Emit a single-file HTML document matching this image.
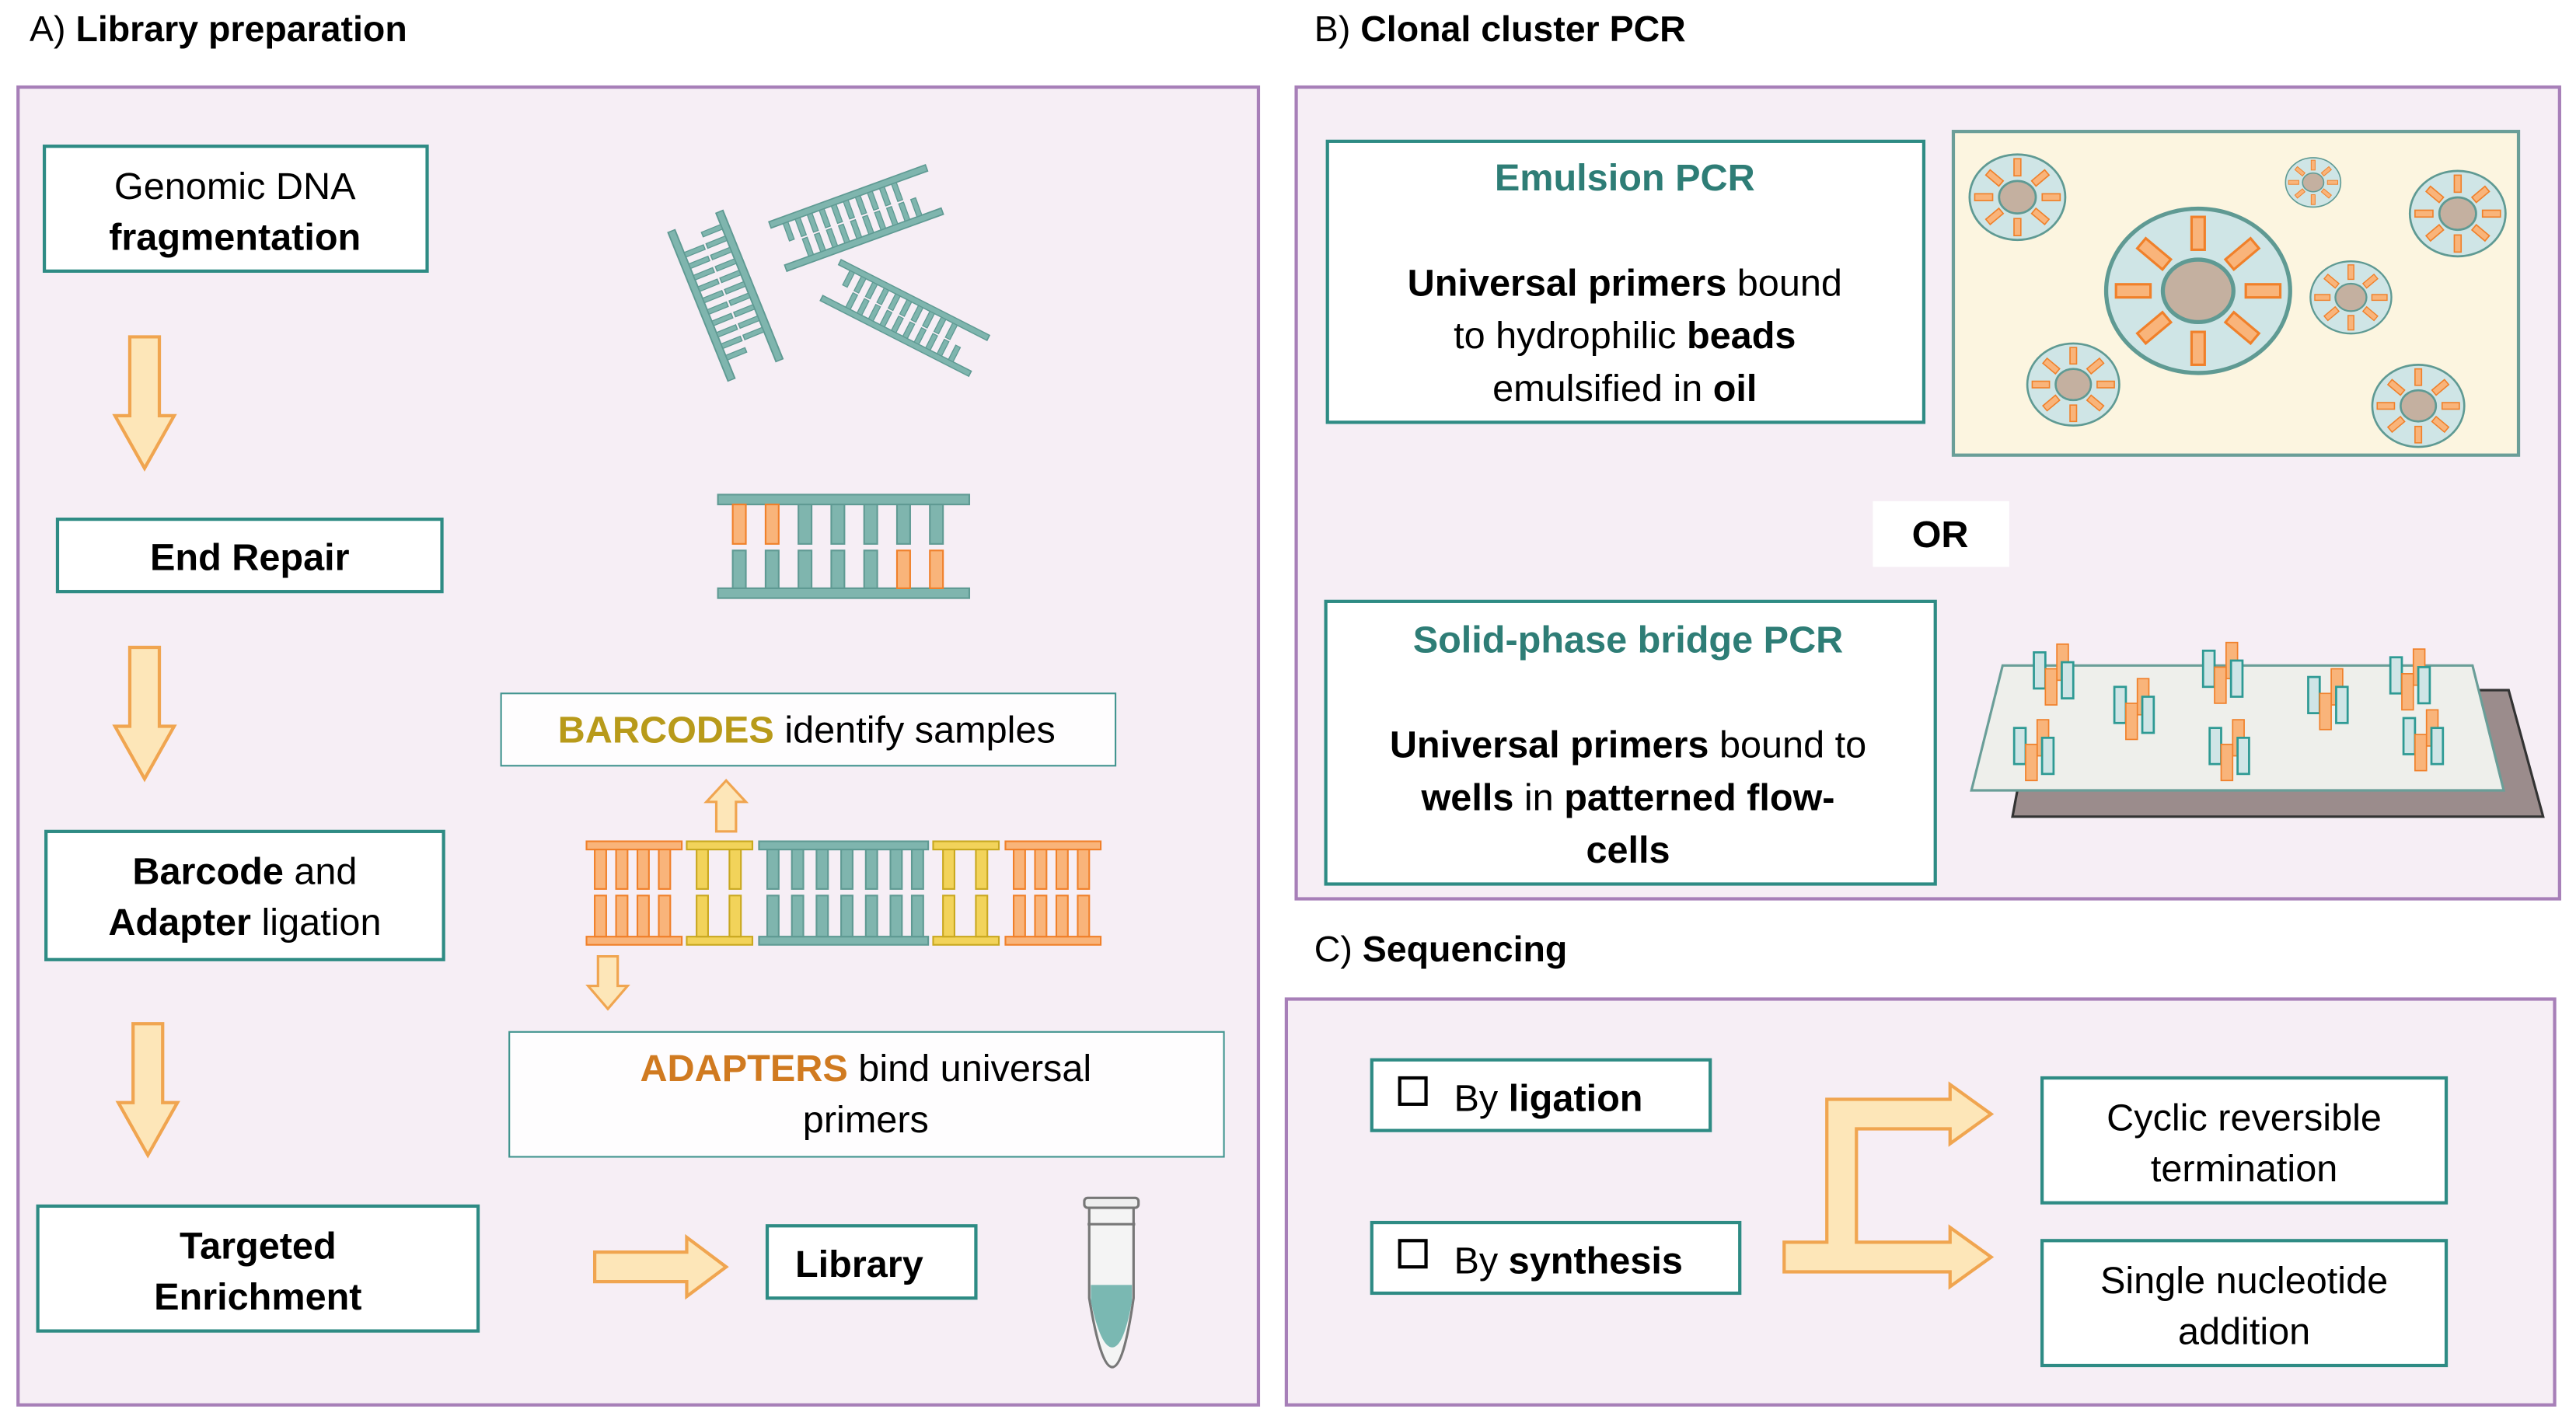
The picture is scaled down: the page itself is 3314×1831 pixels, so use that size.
<!DOCTYPE html>
<html><head><meta charset="utf-8"><style>
html,body{margin:0;padding:0;background:#fff;}
svg{display:block;}
text{font-family:"Liberation Sans",Arial,sans-serif;}
</style></head><body>
<svg width="3314" height="1831" viewBox="0 0 1568 866" preserveAspectRatio="none" xmlns="http://www.w3.org/2000/svg">
<defs>
  <g id="lad">
    <rect x="0" y="0" width="130" height="5" fill="#7fb5ae" stroke="#5f9a93" stroke-width="1"/>
    <rect x="0" y="35" width="130" height="5" fill="#7fb5ae" stroke="#5f9a93" stroke-width="1"/>
    <g fill="#7fb5ae" stroke="#5f9a93" stroke-width="0.8">
      <rect x="10" y="5" width="4" height="14"/><rect x="20" y="5" width="4" height="14"/><rect x="30" y="5" width="4" height="14"/><rect x="40" y="5" width="4" height="14"/><rect x="50" y="5" width="4" height="14"/><rect x="60" y="5" width="4" height="14"/><rect x="70" y="5" width="4" height="14"/><rect x="80" y="5" width="4" height="14"/><rect x="90" y="5" width="4" height="14"/><rect x="100" y="5" width="4" height="14"/>
      <rect x="20" y="21" width="4" height="14"/><rect x="30" y="21" width="4" height="14"/><rect x="40" y="21" width="4" height="14"/><rect x="50" y="21" width="4" height="14"/><rect x="60" y="21" width="4" height="14"/><rect x="70" y="21" width="4" height="14"/><rect x="80" y="21" width="4" height="14"/><rect x="90" y="21" width="4" height="14"/><rect x="100" y="21" width="4" height="14"/><rect x="110" y="21" width="4" height="14"/>
    </g>
  </g>
  <g id="bead">
    <ellipse cx="0" cy="0" rx="1.12" ry="1" fill="#cfe5e6" stroke="#5f9a93" stroke-width="0.05"/>
    <ellipse cx="0" cy="0" rx="0.43" ry="0.38" fill="#c4b0a0" stroke="#5f9a93" stroke-width="0.05"/>
    <g fill="#f9b47a" stroke="#f0802a" stroke-width="0.03">
      <rect x="-0.08" y="-0.9" width="0.16" height="0.4"/>
      <rect x="-0.08" y="0.5" width="0.16" height="0.4"/>
      <rect x="-1.0" y="-0.08" width="0.42" height="0.16"/>
      <rect x="0.58" y="-0.08" width="0.42" height="0.16"/>
      <rect x="-0.08" y="-0.9" width="0.16" height="0.4" transform="rotate(50)"/>
      <rect x="-0.08" y="-0.9" width="0.16" height="0.4" transform="rotate(-50)"/>
      <rect x="-0.08" y="-0.9" width="0.16" height="0.4" transform="rotate(130)"/>
      <rect x="-0.08" y="-0.9" width="0.16" height="0.4" transform="rotate(-130)"/>
    </g>
  </g>
  <g id="pr">
    <rect x="0" y="0" width="7" height="22" fill="#cfe5e6" stroke="#2e9a94" stroke-width="1.3"/>
    <rect x="14" y="-5" width="7" height="22" fill="#f9b47a" stroke="#f0802a" stroke-width="0.8"/>
    <rect x="7" y="10" width="7" height="22" fill="#f9b47a" stroke="#f0802a" stroke-width="0.8"/>
    <rect x="17" y="6" width="7" height="22" fill="#cfe5e6" stroke="#2e9a94" stroke-width="1.3"/>
  </g>
  <g id="darr">
    <polygon points="-9,0 9,0 9,48 18,48 0,80 -18,48 -9,48" fill="#fde6b8" stroke="#f0a550" stroke-width="2"/>
  </g>
</defs>

<!-- Titles -->
<text x="18" y="25" font-size="22">A) <tspan font-weight="bold">Library preparation</tspan></text>
<text x="800" y="25" font-size="22">B) <tspan font-weight="bold">Clonal cluster PCR</tspan></text>
<text x="800" y="585" font-size="22">C) <tspan font-weight="bold">Sequencing</tspan></text>

<!-- Panels -->
<rect x="11" y="53" width="755" height="802" fill="#f6eef5" stroke="#a77fb8" stroke-width="2"/>
<rect x="789" y="53" width="769" height="494" fill="#f6eef5" stroke="#a77fb8" stroke-width="2"/>
<rect x="783" y="608" width="772" height="247" fill="#f6eef5" stroke="#a77fb8" stroke-width="2"/>

<!-- Panel A boxes -->
<g fill="#fff" stroke="#2e8b84" stroke-width="2">
  <rect x="27" y="89" width="233" height="76"/>
  <rect x="35" y="316" width="234" height="44"/>
  <rect x="28" y="506" width="242" height="78"/>
  <rect x="23" y="734" width="268" height="76"/>
  <rect x="467" y="746" width="127" height="44"/>
</g>
<g fill="#fff" stroke="#2e8b84" stroke-width="1" opacity="0.9">
  <rect x="305" y="422" width="374" height="44"/>
  <rect x="310" y="628" width="435" height="76"/>
</g>
<g font-size="23" text-anchor="middle" fill="#000">
  <text x="143" y="121">Genomic DNA</text>
  <text x="143" y="152" font-weight="bold">fragmentation</text>
  <text x="152" y="347" font-weight="bold">End Repair</text>
  <text x="149" y="538"><tspan font-weight="bold">Barcode</tspan> and</text>
  <text x="149" y="569"><tspan font-weight="bold">Adapter</tspan> ligation</text>
  <text x="157" y="766" font-weight="bold">Targeted</text>
  <text x="157" y="797" font-weight="bold">Enrichment</text>
  <text x="523" y="777" font-weight="bold">Library</text>
  <text x="491" y="452"><tspan font-weight="bold" fill="#b89a1a">BARCODES</tspan> identify samples</text>
  <text x="527" y="658"><tspan font-weight="bold" fill="#d07a20">ADAPTERS</tspan> bind universal</text>
  <text x="527" y="689">primers</text>
</g>

<!-- down arrows -->
<use href="#darr" transform="translate(88,205)"/>
<use href="#darr" transform="translate(88,394)"/>
<use href="#darr" transform="translate(90,623)"/>
<polygon points="362,762 418,762 418,753 442,771 418,789 418,780 362,780" fill="#fde6b8" stroke="#f0a550" stroke-width="2"/>
<polygon points="436,506 436,488 430,488 442,475 454,488 448,488 448,506" fill="#fde6b8" stroke="#f0a550" stroke-width="1.5"/>
<polygon points="364,582 376,582 376,600 382,600 370,614 358,600 364,600" fill="#fde6b8" stroke="#f0a550" stroke-width="1.5"/>

<!-- fragmented DNA -->
<use href="#lad" transform="translate(440,128) rotate(68) scale(0.75,0.9)"/>
<use href="#lad" transform="translate(468,135) rotate(-20) scale(0.78,0.8)"/>
<use href="#lad" transform="translate(512,158) rotate(27) scale(0.78,0.7)"/>

<!-- end repair ladder -->
<g stroke="#5f9a93" stroke-width="1">
  <rect x="437" y="301" width="153" height="6" fill="#7fb5ae"/>
  <rect x="437" y="358" width="153" height="6" fill="#7fb5ae"/>
  <g fill="#7fb5ae">
    <rect x="446" y="307" width="8" height="24" fill="#f9b47a" stroke="#f0802a"/><rect x="466" y="307" width="8" height="24" fill="#f9b47a" stroke="#f0802a"/><rect x="486" y="307" width="8" height="24"/><rect x="506" y="307" width="8" height="24"/><rect x="526" y="307" width="8" height="24"/><rect x="546" y="307" width="8" height="24"/><rect x="566" y="307" width="8" height="24"/>
    <rect x="446" y="335" width="8" height="23"/><rect x="466" y="335" width="8" height="23"/><rect x="486" y="335" width="8" height="23"/><rect x="506" y="335" width="8" height="23"/><rect x="526" y="335" width="8" height="23"/><rect x="546" y="335" width="8" height="23" fill="#f9b47a" stroke="#f0802a"/><rect x="566" y="335" width="8" height="23" fill="#f9b47a" stroke="#f0802a"/>
  </g>
</g>

<!-- adapter ladder -->
<g stroke-width="1">
  <g fill="#f9b47a" stroke="#f0802a">
    <rect x="357" y="512" width="58" height="5"/><rect x="357" y="570" width="58" height="5"/>
    <rect x="362" y="517" width="7" height="24"/><rect x="375" y="517" width="7" height="24"/><rect x="388" y="517" width="7" height="24"/><rect x="401" y="517" width="7" height="24"/>
    <rect x="362" y="545" width="7" height="25"/><rect x="375" y="545" width="7" height="25"/><rect x="388" y="545" width="7" height="25"/><rect x="401" y="545" width="7" height="25"/>
    <rect x="612" y="512" width="58" height="5"/><rect x="612" y="570" width="58" height="5"/>
    <rect x="617" y="517" width="7" height="24"/><rect x="630" y="517" width="7" height="24"/><rect x="643" y="517" width="7" height="24"/><rect x="656" y="517" width="7" height="24"/>
    <rect x="617" y="545" width="7" height="25"/><rect x="630" y="545" width="7" height="25"/><rect x="643" y="545" width="7" height="25"/><rect x="656" y="545" width="7" height="25"/>
  </g>
  <g fill="#f2d35a" stroke="#c9a820">
    <rect x="418" y="512" width="40" height="5"/><rect x="418" y="570" width="40" height="5"/>
    <rect x="424" y="517" width="7" height="24"/><rect x="444" y="517" width="7" height="24"/><rect x="424" y="545" width="7" height="25"/><rect x="444" y="545" width="7" height="25"/>
    <rect x="568" y="512" width="40" height="5"/><rect x="568" y="570" width="40" height="5"/>
    <rect x="574" y="517" width="7" height="24"/><rect x="594" y="517" width="7" height="24"/><rect x="574" y="545" width="7" height="25"/><rect x="594" y="545" width="7" height="25"/>
  </g>
  <g fill="#7fb5ae" stroke="#5f9a93">
    <rect x="462" y="512" width="103" height="5"/><rect x="462" y="570" width="103" height="5"/>
    <rect x="467" y="517" width="7" height="24"/><rect x="482" y="517" width="7" height="24"/><rect x="497" y="517" width="7" height="24"/><rect x="512" y="517" width="7" height="24"/><rect x="527" y="517" width="7" height="24"/><rect x="542" y="517" width="7" height="24"/><rect x="555" y="517" width="7" height="24"/>
    <rect x="467" y="545" width="7" height="25"/><rect x="482" y="545" width="7" height="25"/><rect x="497" y="545" width="7" height="25"/><rect x="512" y="545" width="7" height="25"/><rect x="527" y="545" width="7" height="25"/><rect x="542" y="545" width="7" height="25"/><rect x="555" y="545" width="7" height="25"/>
  </g>
</g>

<!-- tube -->
<g stroke="#777" stroke-width="1.5">
  <rect x="660" y="729" width="33" height="6" rx="2" fill="#eee"/>
  <path d="M663,735 L663,790 Q670,832 677,832 Q684,832 690,790 L690,735 Z" fill="#f4f4f4"/>
  <path d="M664,782 L689,782 L689,792 Q684,820 677,820 Q670,820 664,792 Z" fill="#7ab8b2" stroke="none"/>
  <line x1="662" y1="745" x2="691" y2="745"/>
</g>

<!-- Panel B -->
<rect x="808" y="86" width="363" height="171" fill="#fff" stroke="#2e8b84" stroke-width="2"/>
<rect x="807" y="366" width="371" height="172" fill="#fff" stroke="#2e8b84" stroke-width="2"/>
<rect x="1140" y="305" width="83" height="40" fill="#fff"/>
<g font-size="23" text-anchor="middle" fill="#000">
  <text x="989" y="116" font-weight="bold" fill="#2e7d76">Emulsion PCR</text>
  <text x="989" y="180"><tspan font-weight="bold">Universal primers</tspan>  bound</text>
  <text x="989" y="212">to hydrophilic <tspan font-weight="bold">beads</tspan></text>
  <text x="989" y="244">emulsified  in <tspan font-weight="bold">oil</tspan></text>
  <text x="1181" y="333" font-weight="bold">OR</text>
  <text x="991" y="397" font-weight="bold" fill="#2e7d76">Solid-phase bridge PCR</text>
  <text x="991" y="461"><tspan font-weight="bold">Universal primers</tspan>  bound to</text>
  <text x="991" y="493"><tspan font-weight="bold">wells</tspan>  in <tspan font-weight="bold">patterned flow-</tspan></text>
  <text x="991" y="525" font-weight="bold">cells</text>
</g>
<rect x="1189" y="80" width="344" height="197" fill="#fcf5e0" stroke="#6a9e98" stroke-width="2"/>
<use href="#bead" transform="translate(1338,177) scale(50)"/>
<use href="#bead" transform="translate(1228,120) scale(26)"/>
<use href="#bead" transform="translate(1408,111) scale(15)"/>
<use href="#bead" transform="translate(1496,130) scale(26)"/>
<use href="#bead" transform="translate(1431,181) scale(22)"/>
<use href="#bead" transform="translate(1262,234) scale(25)"/>
<use href="#bead" transform="translate(1472,247) scale(25)"/>

<polygon points="1225,497 1548,497 1527,420 1505,420 1230,470" fill="#9b8c8c" stroke="#333" stroke-width="1.5"/>
<polygon points="1219,405 1505,405 1524,481 1200,481" fill="#eeefeb" stroke="#6a9e98" stroke-width="1.5"/>
<use href="#pr" transform="translate(1238,397)"/>
<use href="#pr" transform="translate(1287,418)"/>
<use href="#pr" transform="translate(1341,396)"/>
<use href="#pr" transform="translate(1405,412)"/>
<use href="#pr" transform="translate(1455,400)"/>
<use href="#pr" transform="translate(1226,443)"/>
<use href="#pr" transform="translate(1345,443)"/>
<use href="#pr" transform="translate(1463,437)"/>

<!-- Panel C -->
<g fill="#fff" stroke="#2e8b84" stroke-width="2">
  <rect x="835" y="645" width="206" height="43"/>
  <rect x="835" y="744" width="224" height="43"/>
  <rect x="1243" y="656" width="246" height="76"/>
  <rect x="1243" y="755" width="246" height="76"/>
</g>
<g font-size="23" fill="#000">
  <rect x="852" y="656" width="16" height="16" fill="none" stroke="#000" stroke-width="2"/>
  <text x="885" y="676">By <tspan font-weight="bold">ligation</tspan></text>
  <rect x="852" y="755" width="16" height="16" fill="none" stroke="#000" stroke-width="2"/>
  <text x="885" y="775">By <tspan font-weight="bold">synthesis</tspan></text>
  <g text-anchor="middle">
    <text x="1366" y="688">Cyclic reversible</text>
    <text x="1366" y="719">termination</text>
    <text x="1366" y="787">Single nucleotide</text>
    <text x="1366" y="818">addition</text>
  </g>
</g>
<polygon points="1086,774 1086,756 1112,756 1112,669 1187,669 1187,660 1212,678 1187,696 1187,687 1130,687 1130,756 1187,756 1187,747 1212,765 1187,783 1187,774" fill="#fde6b8" stroke="#f0a550" stroke-width="2"/>
</svg>
</body></html>
